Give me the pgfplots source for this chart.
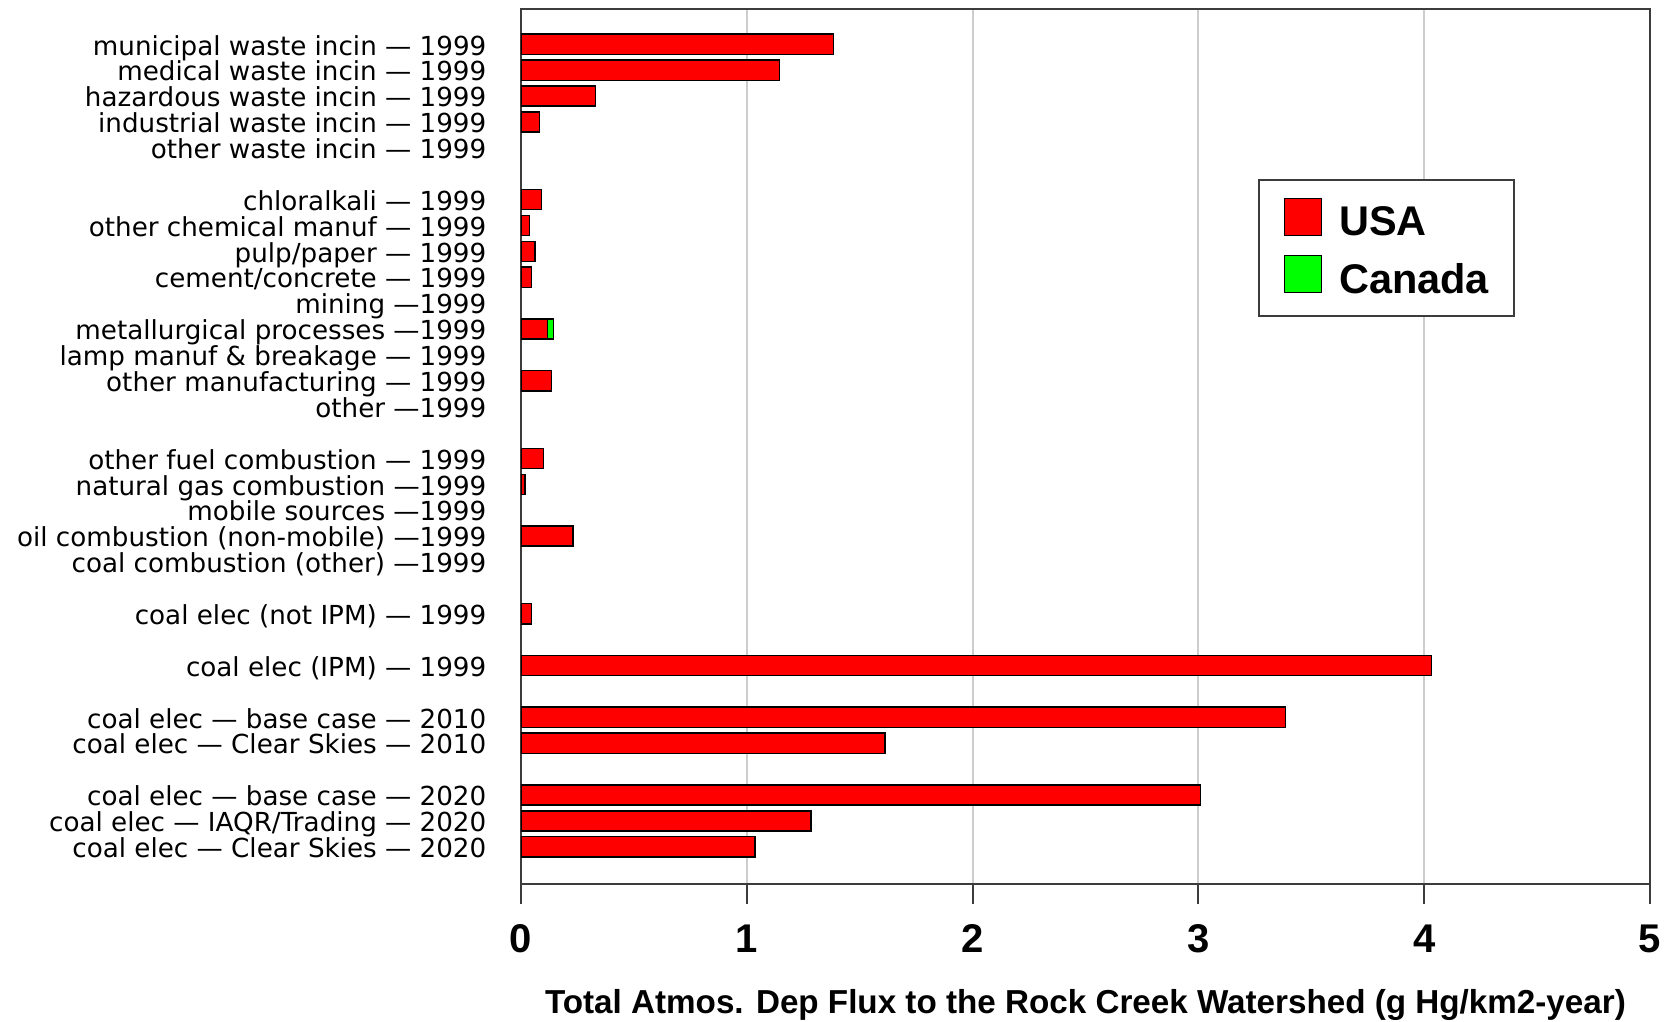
\documentclass[border=0pt]{standalone}
\usepackage{fontspec}
\setmainfont{Liberation Sans}
\newfontfamily\catfont{DejaVu Sans}
\usepackage{pgfplots}
\pgfplotsset{compat=1.18}
\definecolor{usared}{RGB}{255,0,0}
\definecolor{cangreen}{RGB}{0,255,0}
\definecolor{framegray}{RGB}{60,60,60}
\definecolor{gridgray}{RGB}{205,205,205}

\begin{document}
\begin{tikzpicture}
\useasboundingbox (-5.21cm,-1.38cm) rectangle (11.52cm,8.84cm);
\begin{axis}[
    at={(0,0)}, anchor=south west,
    scale only axis, width=11.29cm, height=8.75cm,
    xbar stacked, bar width=0.78,
    xmin=0, xmax=5, ymin=-1.364, ymax=32.44, y dir=reverse,
    axis line style={framegray, line width=0.025cm},
    xtick={0,1,2,3,4,5}, xticklabels={0,1,2,3,4,5},
    xtick pos=bottom, tick align=outside, major tick length=0.2cm,
    xtick style={framegray, line width=0.02cm},
    xmajorgrids, grid style={gridgray, line width=0.02cm},
    xticklabel style={font=\bfseries\fontsize{11.4}{13}\selectfont, inner sep=0pt, yshift=-0.2cm},
    ytick={0,1,2,3,4,6,7,8,9,10,11,12,13,14,16,17,18,19,20,22,24,26,27,29,30,31},
    yticklabels={
        {municipal waste incin — 1999},
        {medical waste incin — 1999},
        {hazardous waste incin — 1999},
        {industrial waste incin — 1999},
        {other waste incin — 1999},
        {chloralkali — 1999},
        {other chemical manuf — 1999},
        {pulp/paper — 1999},
        {cement/concrete — 1999},
        {mining —1999},
        {metallurgical processes —1999},
        {lamp manuf \& breakage — 1999},
        {other manufacturing — 1999},
        {other —1999},
        {other fuel combustion — 1999},
        {natural gas combustion —1999},
        {mobile sources —1999},
        {oil combustion (non-mobile) —1999},
        {coal combustion (other) —1999},
        {coal elec (not IPM) — 1999},
        {coal elec (IPM) — 1999},
        {coal elec — base case — 2010},
        {coal elec — Clear Skies — 2010},
        {coal elec — base case — 2020},
        {coal elec — IAQR/Trading — 2020},
        {coal elec — Clear Skies — 2020}},
    ytick style={draw=none},
    yticklabel style={font=\catfont\fontsize{7.45}{9}\selectfont, anchor=base east, inner sep=0pt, xshift=-0.14cm, yshift=-0.107cm},
    xlabel={Total Atmos. Dep Flux to the Rock Creek Watershed (g Hg/km2-year)},
    xlabel style={font=\bfseries\fontsize{9.45}{11}\selectfont, at={(axis description cs:0.5,0)}, anchor=north, inner sep=0pt, yshift=-1.05cm},
    legend style={at={(axis description cs:0.653,0.806)}, anchor=north west,
        draw=framegray, line width=0.02cm, font=\bfseries\fontsize{11.8}{13}\selectfont,
        inner xsep=0.245cm, inner ysep=0.18cm, row sep=0.137cm,
        nodes={inner sep=0pt}, cells={anchor=west}},
    legend image code/.code={
        \draw[#1, line width=0.015cm] (0cm,-0.117cm) rectangle (0.37cm,0.253cm);
        \path (0.54cm,0cm);},
]
% USA
\addplot[fill=usared, draw=black, line width=0.015cm] coordinates {
    (1.383,0) (1.144,1) (0.331,2) (0.081,3)
    (0.090,6) (0.037,7) (0.063,8) (0.046,9) (0.118,11) (0.136,13)
    (0.099,16) (0.018,17) (0.230,19)
    (0.047,22) (4.033,24) (3.385,26) (1.611,27) (3.010,29) (1.284,30) (1.036,31)
};
\addlegendentry{USA}
% Canada
\addplot[fill=cangreen, draw=black, line width=0.015cm] coordinates {
    (0,0) (0,1) (0,2) (0,3)
    (0,6) (0,7) (0,8) (0,9) (0.025,11) (0,13)
    (0,16) (0,17) (0,19)
    (0,22) (0,24) (0,26) (0,27) (0,29) (0,30) (0,31)
};
\addlegendentry{Canada}
\end{axis}
\end{tikzpicture}
\end{document}
